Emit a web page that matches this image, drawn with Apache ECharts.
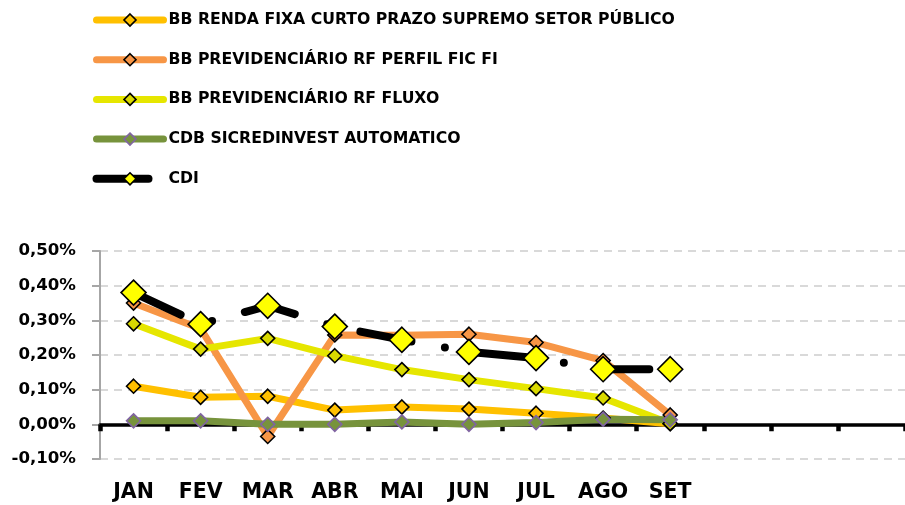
<!DOCTYPE html>
<html>
<head>
<meta charset="utf-8">
<script src="https://cdn.jsdelivr.net/npm/echarts@6/dist/echarts.min.js"></script>
<style>
html,body{margin:0;padding:0;background:#fff;}
#chart{width:905px;height:505px;}
</style>
</head>
<body>
<div id="chart"></div>
<script>
// Data
var categories = ['JAN','FEV','MAR','ABR','MAI','JUN','JUL','AGO','SET','','',''];
var seriesNames = [
  'BB RENDA FIXA CURTO PRAZO SUPREMO SETOR PÚBLICO',
  'BB PREVIDENCIÁRIO RF PERFIL FIC FI',
  'BB PREVIDENCIÁRIO RF FLUXO',
  'CDB SICREDINVEST AUTOMATICO',
  'CDI'
];
var rendaFixa   = [0.110, 0.078, 0.081, 0.041, 0.050, 0.044, 0.032, 0.018, 0.002];
var perfil      = [0.350, 0.276, -0.035, 0.258, 0.257, 0.260, 0.236, 0.184, 0.027];
var fluxo       = [0.290, 0.217, 0.248, 0.198, 0.158, 0.129, 0.103, 0.076, 0.002];
var sicredi     = [0.010, 0.010, 0.000, 0.000, 0.007, 0.000, 0.005, 0.015, 0.013];
var cdi         = [0.380, 0.289, 0.342, 0.282, 0.244, 0.209, 0.191, 0.159, 0.159];
var yTicks = {min: -0.1, max: 0.5, interval: 0.1};

var FONT = 'DejaVu Sans';

function smallSeries(name, data, lineColor, fill, border) {
  return {
    name: name, type: 'line', data: data,
    symbol: 'diamond', symbolSize: 14,
    showSymbol: true, showAllSymbol: true,
    lineStyle: {color: lineColor, width: 7, join: 'round', cap: 'round'},
    itemStyle: {color: fill, borderColor: border, borderWidth: 1.6},
    emphasis: {disabled: true}
  };
}

var chart = echarts.init(document.getElementById('chart'), null, {renderer: 'canvas'});
chart.setOption({
  animation: false,
  backgroundColor: '#ffffff',
  textStyle: {fontFamily: FONT},
  legend: {
    orient: 'vertical',
    left: 92.5, top: 12, padding: 0,
    itemWidth: 67, itemHeight: 15, itemGap: 23.7,
    data: seriesNames,
    textStyle: {fontFamily: FONT, fontWeight: 'bold', fontSize: 15.7, color: '#000'},
    lineStyle: {width: 'inherit', cap: 'round'},
    itemStyle: {borderWidth: 'inherit'},
    selectedMode: false
  },
  grid: {left: 100, right: 0, top: 251, bottom: 46, containLabel: false, outerBoundsMode: 'none'},
  xAxis: {
    type: 'category',
    data: categories,
    boundaryGap: true,
    axisLine: {show: true, onZero: true, lineStyle: {color: '#000', width: 3.5}},
    axisTick: {show: true, interval: 0, length: 7, lineStyle: {color: '#000', width: 4.5}},
    axisLabel: {interval: 0, margin: 23.5, color: '#000', fontFamily: FONT, fontWeight: 'bold', fontSize: 20.5},
    splitLine: {show: false}
  },
  yAxis: {
    type: 'value',
    min: yTicks.min, max: yTicks.max, interval: yTicks.interval,
    axisLine: {show: true, lineStyle: {color: '#A6A6A6', width: 2}},
    axisTick: {show: true, length: 8, lineStyle: {color: '#A6A6A6', width: 2}},
    axisLabel: {
      margin: 24, color: '#000', fontFamily: FONT, fontWeight: 'bold', fontSize: 16.6,
      formatter: function (v) { return (Math.round(v * 100) / 100).toFixed(2).replace('.', ',') + '%'; }
    },
    splitLine: {show: true, lineStyle: {color: '#D9D9D9', width: 2, type: [8, 6]}}
  },
  series: [
    smallSeries(seriesNames[0], rendaFixa, '#FFC000', '#FFC000', '#000000'),
    smallSeries(seriesNames[1], perfil, '#F79646', '#F79646', '#000000'),
    smallSeries(seriesNames[2], fluxo, '#E6E600', '#D9D900', '#000000'),
    smallSeries(seriesNames[3], sicredi, '#77933C', '#77933C', '#8064A2'),
    {
      name: seriesNames[4], type: 'line', data: cdi,
      symbol: 'diamond', symbolSize: 25,
      showSymbol: true, showAllSymbol: true,
      lineStyle: {color: '#000000', width: 8, cap: 'round', join: 'round', type: [52, 34, 0, 34]},
      itemStyle: {color: '#FFFF00', borderColor: '#000000', borderWidth: 1.6},
      emphasis: {disabled: true}
    }
  ]
});
</script>
</body>
</html>
